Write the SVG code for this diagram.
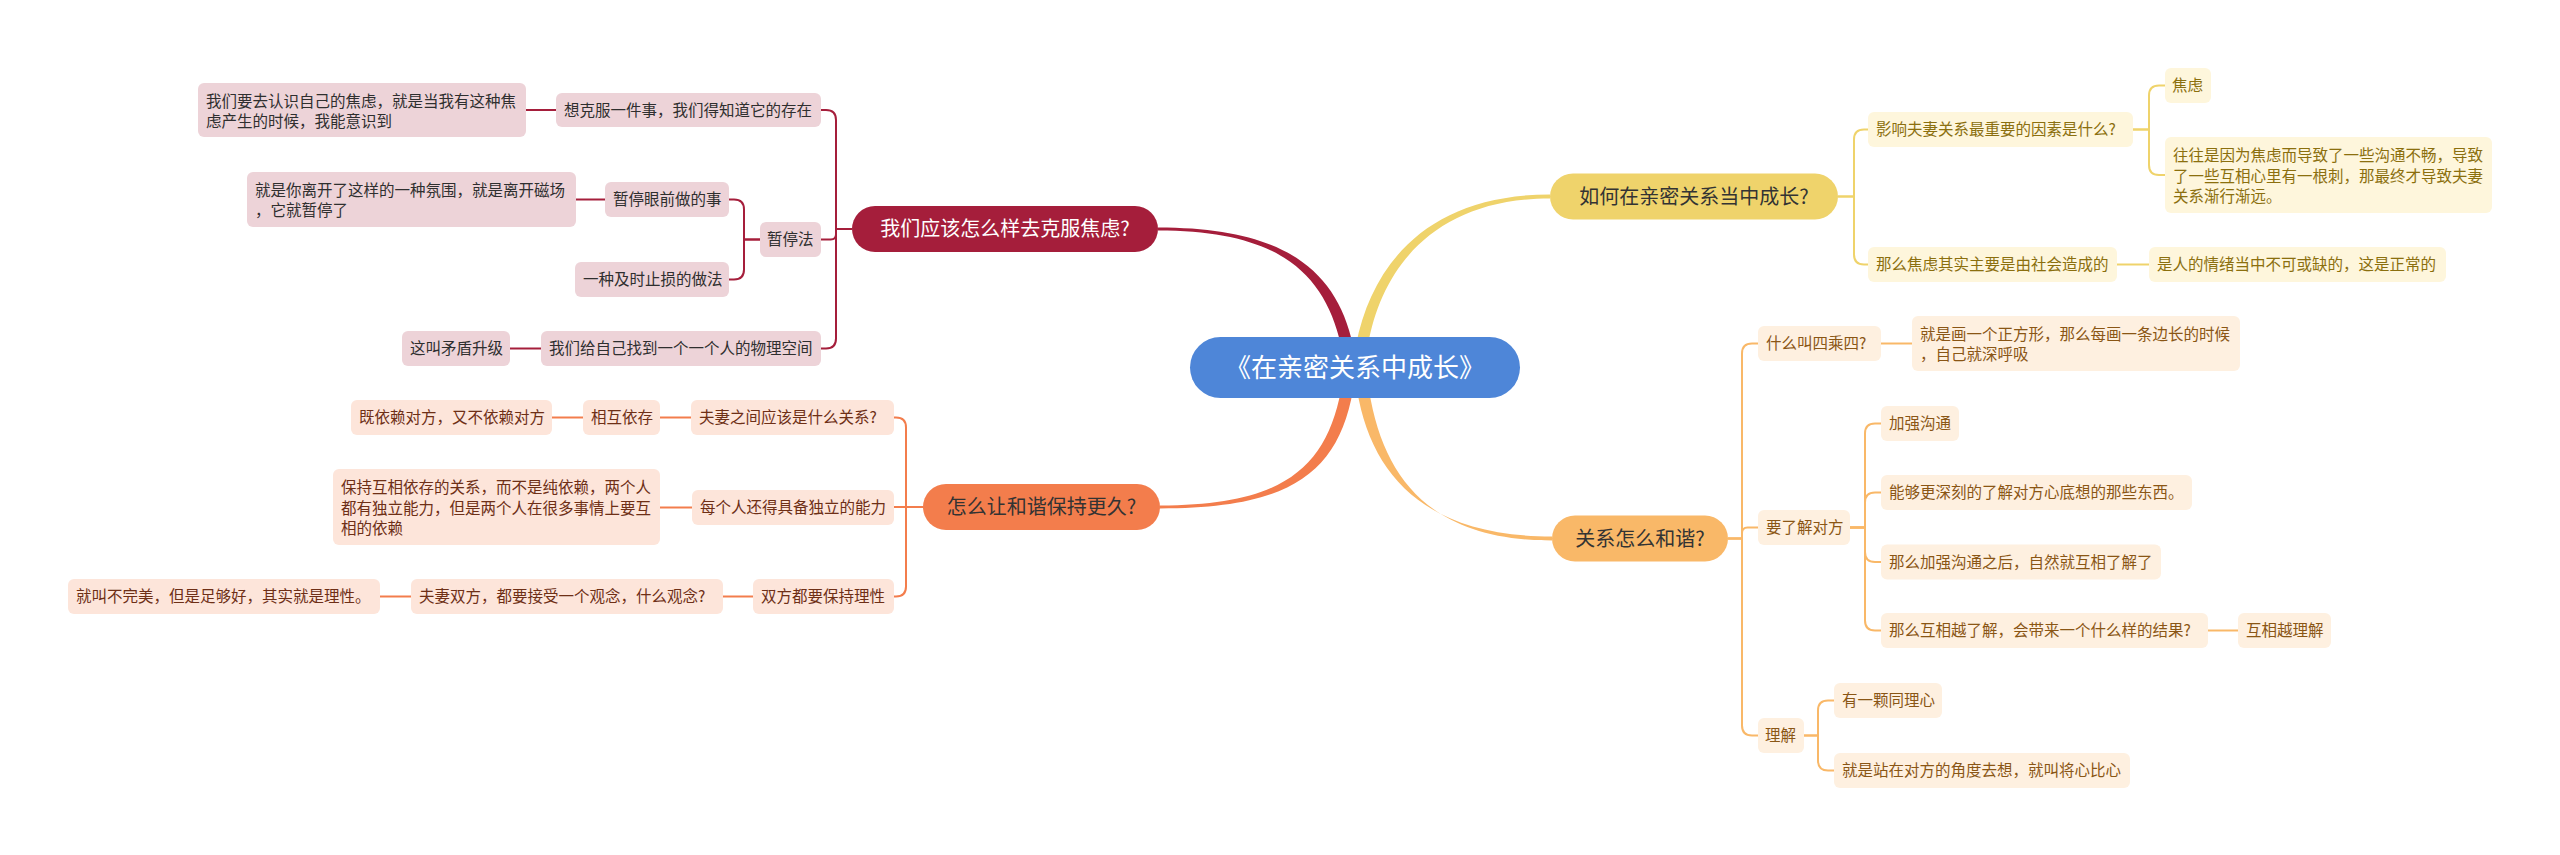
<svg xmlns="http://www.w3.org/2000/svg" width="2560" height="855" viewBox="0 0 2560 855">
<style>
text{font-family:'Noto Sans CJK SC','Noto Sans',sans-serif;}
.t{font-size:15.5px;}
.m{font-size:20px;text-anchor:middle;}
.cr{fill:#EDD3D8;} .tr{fill:#2f2f2f;}
.co{fill:#FDE5DA;} .to{fill:#6e2f16;}
.cy{fill:#FEF6DC;} .ty{fill:#8B6F0E;}
.cl{fill:#FEF0E0;} .tl{fill:#8A5615;}
.lr{fill:none;stroke:#A51E3B;stroke-width:2;stroke-linejoin:round;}
.lo{fill:none;stroke:#F37D4C;stroke-width:2;stroke-linejoin:round;}
.ly{fill:none;stroke:#EFD36B;stroke-width:2;stroke-linejoin:round;}
.ll{fill:none;stroke:#F9B868;stroke-width:2;stroke-linejoin:round;}
</style>
<rect width="2560" height="855" fill="#ffffff"/>
<g id="connectors">
<path d="M1158,227.5 C1282,227.5 1336,268 1353,345 L1341,345 C1324,272 1278,230.5 1158,230.5 Z" fill="#A51E3B"/>
<path d="M1356,345 C1372,262 1430,194.5 1550,194.5 L1550,198.5 C1436,198.5 1382,266 1368,345 Z" fill="#EFD36B"/>
<path d="M1341,390 C1326,470 1280,505.5 1160,505.5 L1160,508.5 C1286,508.5 1338,476 1353,390 Z" fill="#F37D4C"/>
<path d="M1357,390 C1372,480 1430,536.5 1552,536.5 L1552,540.5 C1436,540.5 1384,484 1369,390 Z" fill="#F9B868"/>
<path class="lr" d="M852,229 H836 V120 Q836,110 826,110 H821"/>
<path class="lr" d="M852,229 H836 V234.25 Q836,239.5 830.75,239.5 H821"/>
<path class="lr" d="M852,229 H836 V338.5 Q836,348.5 826,348.5 H821"/>
<path class="lr" d="M760,239.5 H744 V209.5 Q744,199.5 734,199.5 H729"/>
<path class="lr" d="M760,239.5 H744 V269.5 Q744,279.5 734,279.5 H729"/>
<path class="lr" d="M556,110 H526"/>
<path class="lr" d="M605,199.5 H576"/>
<path class="lr" d="M541,348.5 H510"/>
<path class="lo" d="M923,507 H906 V427.5 Q906,417.5 896,417.5 H894"/>
<path class="lo" d="M923,507 H894"/>
<path class="lo" d="M923,507 H906 V586.5 Q906,596.5 896,596.5 H894"/>
<path class="lo" d="M691,417.5 H660"/>
<path class="lo" d="M583,417.5 H552"/>
<path class="lo" d="M692,507.5 H660"/>
<path class="lo" d="M753,596.5 H723"/>
<path class="lo" d="M411,596.5 H380"/>
<path class="ly" d="M1838,196.5 H1854 V139.5 Q1854,129.5 1864,129.5 H1868"/>
<path class="ly" d="M1838,196.5 H1854 V254.5 Q1854,264.5 1864,264.5 H1868"/>
<path class="ly" d="M2133,129.5 H2149 V95.5 Q2149,85.5 2159,85.5 H2165"/>
<path class="ly" d="M2133,129.5 H2149 V165 Q2149,175 2159,175 H2165"/>
<path class="ly" d="M2117,264.5 H2149"/>
<path class="ll" d="M1728,538.5 H1742 V353.5 Q1742,343.5 1752,343.5 H1758"/>
<path class="ll" d="M1728,538.5 H1742 V533 Q1742,527.5 1747.5,527.5 H1758"/>
<path class="ll" d="M1728,538.5 H1742 V725.5 Q1742,735.5 1752,735.5 H1758"/>
<path class="ll" d="M1881,343.5 H1912"/>
<path class="ll" d="M1850,527.5 H1865 V433.5 Q1865,423.5 1875,423.5 H1881"/>
<path class="ll" d="M1850,527.5 H1865 V502.5 Q1865,492.5 1875,492.5 H1881"/>
<path class="ll" d="M1850,527.5 H1865 V552 Q1865,562 1875,562 H1881"/>
<path class="ll" d="M1850,527.5 H1865 V620.5 Q1865,630.5 1875,630.5 H1881"/>
<path class="ll" d="M2208,630.5 H2238"/>
<path class="ll" d="M1804,735.5 H1818 V710.5 Q1818,700.5 1828,700.5 H1834"/>
<path class="ll" d="M1804,735.5 H1818 V760.5 Q1818,770.5 1828,770.5 H1834"/>
</g>
<g id="center"><rect x="1190" y="337" width="330" height="61" rx="30.5" fill="#4E86D8"/><text x="1355" y="376.5" font-size="26" text-anchor="middle" fill="#ffffff">《在亲密关系中成长》</text></g>
<g id="main-red"><rect x="852" y="206" width="306" height="46" rx="23" fill="#A51E3B"/><text class="m" x="1005" y="236" fill="#ffffff">我们应该怎么样去克服焦虑?</text></g>
<g id="main-orange"><rect x="923" y="484" width="237" height="46" rx="23" fill="#F37D4C"/><text class="m" x="1041.5" y="514" fill="#333333">怎么让和谐保持更久?</text></g>
<g id="main-yellow"><rect x="1550" y="173.5" width="288" height="46" rx="23" fill="#EFD36B"/><text class="m" x="1694" y="203.5" fill="#333333">如何在亲密关系当中成长?</text></g>
<g id="main-lorange"><rect x="1552" y="515.5" width="176" height="46" rx="23" fill="#F9B868"/><text class="m" x="1640" y="545.5" fill="#333333">关系怎么和谐?</text></g>
<g id="a1"><rect class="cr" x="556" y="93" width="265" height="34" rx="6"/><text class="t tr" x="564" y="115.5">想克服一件事，我们得知道它的存在</text></g>
<g id="a1a"><rect class="cr" x="198" y="83" width="328" height="54" rx="6"/><text class="t tr" x="206" y="106.5">我们要去认识自己的焦虑，就是当我有这种焦</text><text class="t tr" x="206" y="127">虑产生的时候，我能意识到</text></g>
<g id="a2"><rect class="cr" x="760" y="222" width="61" height="35" rx="6"/><text class="t tr" x="767" y="245">暂停法</text></g>
<g id="a2a"><rect class="cr" x="605" y="182" width="124" height="35" rx="6"/><text class="t tr" x="613" y="205">暂停眼前做的事</text></g>
<g id="a2a1"><rect class="cr" x="247" y="172" width="329" height="55" rx="6"/><text class="t tr" x="255" y="195.75">就是你离开了这样的一种氛围，就是离开磁场</text><text class="t tr" x="255" y="216.25">，它就暂停了</text></g>
<g id="a2b"><rect class="cr" x="575" y="262" width="154" height="35" rx="6"/><text class="t tr" x="583" y="285">一种及时止损的做法</text></g>
<g id="a3"><rect class="cr" x="541" y="331" width="280" height="35" rx="6"/><text class="t tr" x="549" y="354">我们给自己找到一个一个人的物理空间</text></g>
<g id="a3a"><rect class="cr" x="402" y="331" width="108" height="35" rx="6"/><text class="t tr" x="410" y="354">这叫矛盾升级</text></g>
<g id="d1"><rect class="co" x="691" y="400" width="203" height="35" rx="6"/><text class="t to" x="699" y="423">夫妻之间应该是什么关系?</text></g>
<g id="d1a"><rect class="co" x="583" y="400" width="77" height="35" rx="6"/><text class="t to" x="591" y="423">相互依存</text></g>
<g id="d1a1"><rect class="co" x="351" y="400" width="201" height="35" rx="6"/><text class="t to" x="359" y="423">既依赖对方，又不依赖对方</text></g>
<g id="d2"><rect class="co" x="692" y="490" width="202" height="35" rx="6"/><text class="t to" x="700" y="513">每个人还得具备独立的能力</text></g>
<g id="d2a"><rect class="co" x="333" y="469" width="327" height="76" rx="6"/><text class="t to" x="341" y="493">保持互相依存的关系，而不是纯依赖，两个人</text><text class="t to" x="341" y="513.5">都有独立能力，但是两个人在很多事情上要互</text><text class="t to" x="341" y="534">相的依赖</text></g>
<g id="d3"><rect class="co" x="753" y="579" width="141" height="35" rx="6"/><text class="t to" x="761" y="602">双方都要保持理性</text></g>
<g id="d3a"><rect class="co" x="411" y="579" width="312" height="35" rx="6"/><text class="t to" x="419" y="602">夫妻双方，都要接受一个观念，什么观念?</text></g>
<g id="d3a1"><rect class="co" x="68" y="579" width="312" height="35" rx="6"/><text class="t to" x="76" y="602">就叫不完美，但是足够好，其实就是理性。</text></g>
<g id="b1"><rect class="cy" x="1868" y="112" width="265" height="35" rx="6"/><text class="t ty" x="1876" y="135">影响夫妻关系最重要的因素是什么?</text></g>
<g id="b1a"><rect class="cy" x="2165" y="68" width="46" height="35" rx="6"/><text class="t ty" x="2172" y="91">焦虑</text></g>
<g id="b1b"><rect class="cy" x="2165" y="137" width="327" height="76" rx="6"/><text class="t ty" x="2173" y="161">往往是因为焦虑而导致了一些沟通不畅，导致</text><text class="t ty" x="2173" y="181.5">了一些互相心里有一根刺，那最终才导致夫妻</text><text class="t ty" x="2173" y="202">关系渐行渐远。</text></g>
<g id="b2"><rect class="cy" x="1868" y="247" width="249" height="35" rx="6"/><text class="t ty" x="1876" y="270">那么焦虑其实主要是由社会造成的</text></g>
<g id="b2a"><rect class="cy" x="2149" y="247" width="297" height="35" rx="6"/><text class="t ty" x="2157" y="270">是人的情绪当中不可或缺的，这是正常的</text></g>
<g id="c1"><rect class="cl" x="1758" y="326" width="123" height="35" rx="6"/><text class="t tl" x="1766" y="349">什么叫四乘四?</text></g>
<g id="c1a"><rect class="cl" x="1912" y="316" width="328" height="55" rx="6"/><text class="t tl" x="1920" y="339.75">就是画一个正方形，那么每画一条边长的时候</text><text class="t tl" x="1920" y="360.25">，自己就深呼吸</text></g>
<g id="c2"><rect class="cl" x="1758" y="510" width="92" height="35" rx="6"/><text class="t tl" x="1766" y="533">要了解对方</text></g>
<g id="c2a"><rect class="cl" x="1881" y="406" width="78" height="35" rx="6"/><text class="t tl" x="1889" y="429">加强沟通</text></g>
<g id="c2b"><rect class="cl" x="1881" y="475" width="311" height="35" rx="6"/><text class="t tl" x="1889" y="498">能够更深刻的了解对方心底想的那些东西。</text></g>
<g id="c2c"><rect class="cl" x="1881" y="544.5" width="280" height="35" rx="6"/><text class="t tl" x="1889" y="567.5">那么加强沟通之后，自然就互相了解了</text></g>
<g id="c2d"><rect class="cl" x="1881" y="613" width="327" height="35" rx="6"/><text class="t tl" x="1889" y="636">那么互相越了解，会带来一个什么样的结果?</text></g>
<g id="c2d1"><rect class="cl" x="2238" y="613" width="93" height="35" rx="6"/><text class="t tl" x="2246" y="636">互相越理解</text></g>
<g id="c3"><rect class="cl" x="1758" y="718" width="46" height="35" rx="6"/><text class="t tl" x="1765" y="741">理解</text></g>
<g id="c3a"><rect class="cl" x="1834" y="683" width="108" height="35" rx="6"/><text class="t tl" x="1842" y="706">有一颗同理心</text></g>
<g id="c3b"><rect class="cl" x="1834" y="753" width="296" height="35" rx="6"/><text class="t tl" x="1842" y="776">就是站在对方的角度去想，就叫将心比心</text></g>
</svg>
